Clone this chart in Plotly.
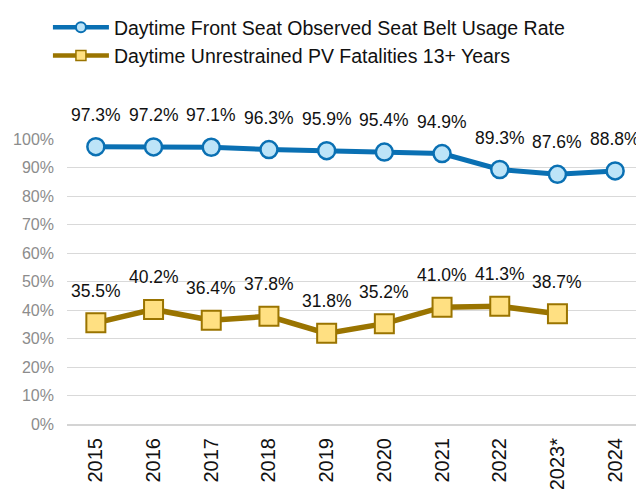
import plotly.graph_objects as go

years = ["2015", "2016", "2017", "2018", "2019", "2020", "2021", "2022", "2023*", "2024"]
belt_use = [97.3, 97.2, 97.1, 96.3, 95.9, 95.4, 94.9, 89.3, 87.6, 88.8]
unrestrained = [35.5, 40.2, 36.4, 37.8, 31.8, 35.2, 41.0, 41.3, 38.7, None]
y_ticks = [0, 10, 20, 30, 40, 50, 60, 70, 80, 90, 100]
y_tick_text = [f"{v}%" for v in y_ticks]

BLUE = "#0A70B3"
BLUE_FILL = "#BDE4F8"
GOLD = "#9A7400"
GOLD_FILL = "#FFE082"
FONT = "Liberation Sans, Arial, sans-serif"

name1 = "Daytime Front Seat Observed Seat Belt Usage Rate"
name2 = "Daytime Unrestrained PV Fatalities 13+ Years"

fig = go.Figure()
fig.add_trace(go.Scatter(
    x=years, y=belt_use, mode="lines+markers", showlegend=False,
    line=dict(color=BLUE, width=5),
    marker=dict(symbol="circle", size=17, color=BLUE_FILL, line=dict(color=BLUE, width=2.5)),
    cliponaxis=False,
))
fig.add_trace(go.Scatter(
    x=years, y=unrestrained, mode="lines+markers", showlegend=False,
    line=dict(color=GOLD, width=5.5),
    marker=dict(symbol="square", size=19, color=GOLD_FILL, line=dict(color=GOLD, width=2)),
    cliponaxis=False,
))
# legend-only entries with smaller markers
fig.add_trace(go.Scatter(
    x=[years[0]], y=[None], mode="lines+markers", name=name1,
    line=dict(color=BLUE, width=4.5),
    marker=dict(symbol="circle", size=10, color=BLUE_FILL, line=dict(color=BLUE, width=2)),
))
fig.add_trace(go.Scatter(
    x=[years[0]], y=[None], mode="lines+markers", name=name2,
    line=dict(color=GOLD, width=4.5),
    marker=dict(symbol="square", size=10, color=GOLD_FILL, line=dict(color=GOLD, width=1.5)),
))

annotations = []
for series in (belt_use, unrestrained):
    for i, v in enumerate(series):
        if v is None:
            continue
        annotations.append(dict(
            x=i, y=v, xref="x", yref="y", text=f"{v:.1f}%", showarrow=False,
            yshift=32, font=dict(family=FONT, size=17.5, color="#111111"),
        ))

fig.update_layout(
    width=644, height=489,
    margin=dict(l=59, r=8, t=131, b=73, autoexpand=False),
    paper_bgcolor="white", plot_bgcolor="white",
    font=dict(family=FONT),
    annotations=annotations,
    legend=dict(
        x=0.062, y=1.008, xref="container", yref="container",
        xanchor="left", yanchor="top",
        font=dict(family=FONT, size=19.5, color="#111111"),
        itemwidth=56, tracegroupgap=0, bgcolor="rgba(0,0,0,0)",
    ),
    xaxis=dict(
        type="category", categoryorder="array", categoryarray=years,
        range=[-0.5, len(years) - 0.5],
        tickangle=-90, showgrid=False,
        showline=True, linecolor="#D4D4D4", linewidth=2,
        ticks="", tickfont=dict(family=FONT, size=20, color="#111111"),
        ticklabelstandoff=4,
    ),
    yaxis=dict(
        type="linear", range=[0, 100], tickmode="array",
        tickvals=y_ticks, ticktext=y_tick_text,
        showgrid=True, gridcolor="#D9D9D9", gridwidth=1,
        zeroline=False, showline=False, ticks="",
        tickfont=dict(family=FONT, size=16, color="#8C8C8C"),
        ticklabelstandoff=12,
    ),
)

fig.write_html("out.html")
